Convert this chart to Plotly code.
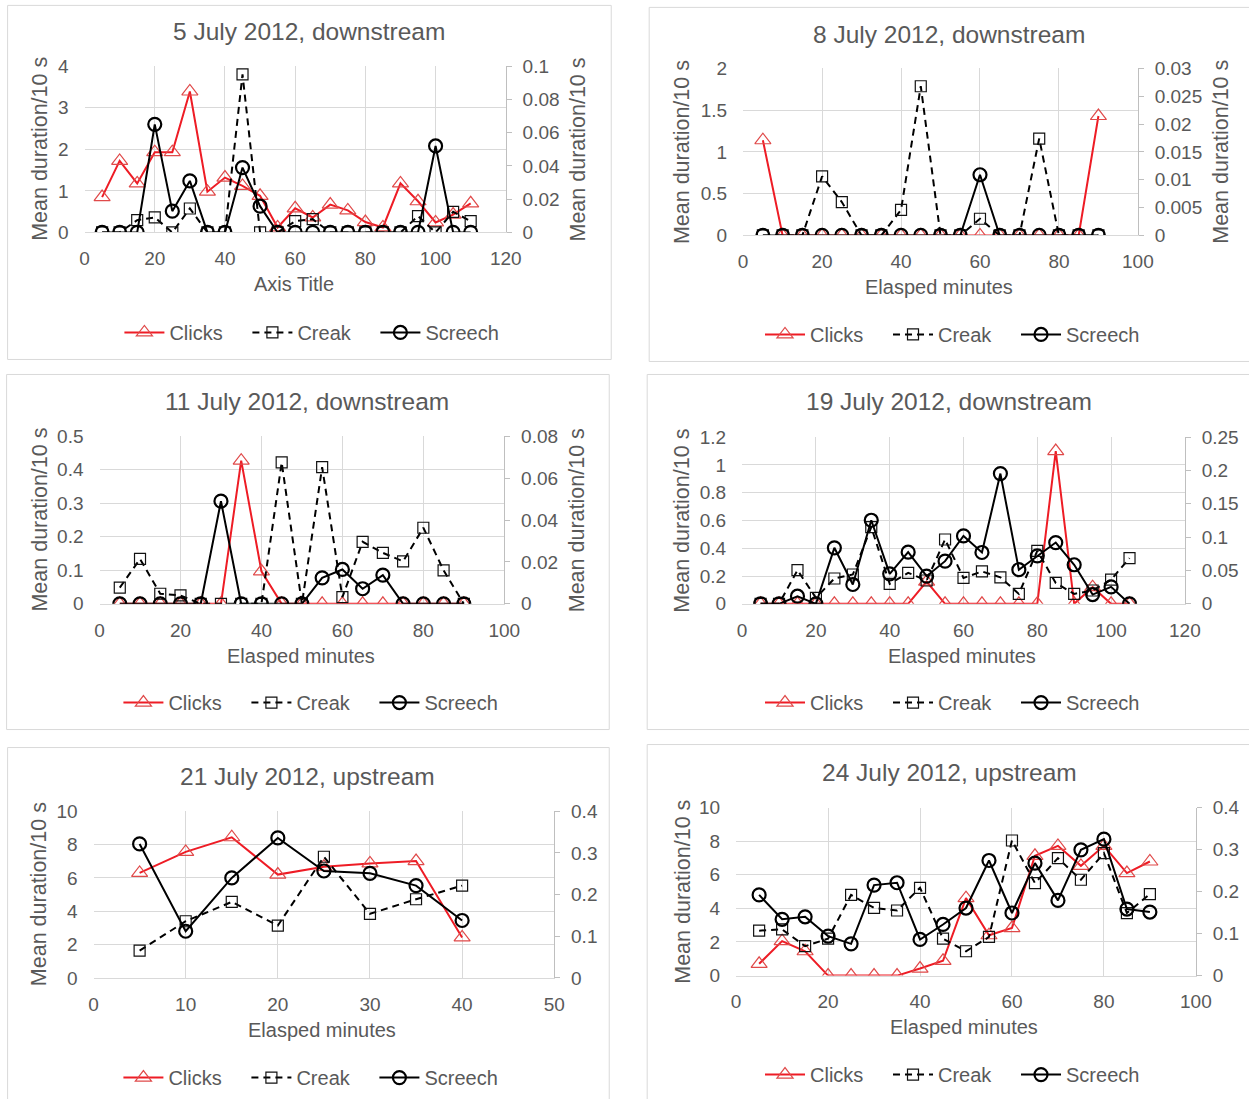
import plotly.graph_objects as go

# ---------------- DATA ----------------
p1_minutes = [5, 10, 15, 20, 25, 30, 35, 40, 45, 50, 55, 60, 65, 70, 75, 80, 85, 90, 95, 100, 105, 110]
p1_clicks = [0.85, 1.72, 1.18, 1.93, 1.93, 3.39, 0.98, 1.32, 1.12, 0.88, 0.12, 0.58, 0.36, 0.67, 0.53, 0.25, 0.12, 1.18, 0.75, 0.24, 0.43, 0.7]
p1_creak = [0, 0, 0.0074, 0.009, 0, 0.0144, 0, 0, 0.095, 0, 0, 0.0068, 0.008, 0, 0, 0, 0, 0, 0.0098, 0, 0.0124, 0.0068]
p1_screech = [0, 0, 0, 0.065, 0.0128, 0.031, 0, 0, 0.039, 0.0158, 0, 0, 0, 0, 0, 0, 0, 0, 0, 0.052, 0, 0]

p2_minutes = [5, 10, 15, 20, 25, 30, 35, 40, 45, 50, 55, 60, 65, 70, 75, 80, 85, 90]
p2_clicks = [1.14, 0, 0, 0, 0, 0, 0, 0, 0, 0, 0, 0, 0, 0, 0, 0, 0, 1.43]
p2_creak = [0, 0, 0, 0.0106, 0.006, 0, 0, 0.0046, 0.0268, 0, 0, 0.003, 0, 0, 0.0174, 0, 0, 0]
p2_screech = [0, 0, 0, 0, 0, 0, 0, 0, 0, 0, 0, 0.0109, 0, 0, 0, 0, 0, 0]

p3_minutes = [5, 10, 15, 20, 25, 30, 35, 40, 45, 50, 55, 60, 65, 70, 75, 80, 85, 90]
p3_clicks = [0, 0, 0, 0, 0, 0, 0.427, 0.097, 0, 0, 0, 0, 0, 0, 0, 0, 0, 0]
p3_creak = [0.0077, 0.0214, 0.0048, 0.004, 0, 0, 0, 0, 0.0675, 0, 0.0652, 0.0032, 0.0296, 0.0243, 0.0203, 0.0363, 0.016, 0]
p3_screech = [0, 0, 0, 0, 0, 0.049, 0, 0, 0, 0, 0.0124, 0.0164, 0.0072, 0.0137, 0, 0, 0, 0]

p4_minutes = [5, 10, 15, 20, 25, 30, 35, 40, 45, 50, 55, 60, 65, 70, 75, 80, 85, 90, 95, 100, 105]
p4_clicks = [0, 0, 0, 0, 0, 0, 0, 0, 0, 0.16, 0, 0, 0, 0, 0, 0, 1.1, 0, 0.12, 0, 0]
p4_creak = [0, 0, 0.0504, 0.009, 0.038, 0.044, 0.115, 0.030, 0.0465, 0.035, 0.0965, 0.0388, 0.0486, 0.0397, 0.0149, 0.0795, 0.0313, 0.0149, 0.02, 0.0362, 0.0686]
p4_screech = [0, 0, 0.0114, 0, 0.084, 0.029, 0.1254, 0.045, 0.0775, 0.0415, 0.064, 0.1019, 0.077, 0.1954, 0.0512, 0.072, 0.0919, 0.0586, 0.0139, 0.0254, 0]

p5_minutes = [5, 10, 15, 20, 25, 30, 35, 40]
p5_clicks = [6.3, 7.56, 8.44, 6.2, 6.67, 6.87, 7.01, 2.43]
p5_creak = [0.0656, 0.136, 0.1824, 0.1256, 0.2908, 0.1538, 0.1888, 0.2215]
p5_screech = [0.3216, 0.112, 0.24, 0.336, 0.2566, 0.251, 0.2215, 0.1378]

p6_minutes = [5, 10, 15, 20, 25, 30, 35, 40, 45, 50, 55, 60, 65, 70, 75, 80, 85, 90]
p6_clicks = [0.7, 2.05, 1.45, 0, 0, 0, 0, 0.42, 0.88, 4.61, 2.4, 2.83, 7.13, 7.72, 6.53, 7.72, 6.1, 6.79]
p6_creak = [0.107, 0.11, 0.07, 0.088, 0.192, 0.161, 0.155, 0.209, 0.088, 0.058, 0.092, 0.3216, 0.2202, 0.2796, 0.2281, 0.2915, 0.1489, 0.194]
p6_screech = [0.192, 0.134, 0.14, 0.094, 0.0756, 0.2155, 0.221, 0.086, 0.1217, 0.1608, 0.274, 0.149, 0.2677, 0.179, 0.2994, 0.3248, 0.1584, 0.1513]

series_names = ["Clicks", "Creak", "Screech"]
panel_titles = ["5 July 2012, downstream", "8 July 2012, downstream", "11 July 2012, downstream",
                "19 July 2012, downstream", "21 July 2012, upstream", "24 July 2012, upstream"]
x_titles = ["Axis Title", "Elasped minutes", "Elasped minutes", "Elasped minutes", "Elasped minutes", "Elasped minutes"]
y_title = "Mean duration/10 s"

x_max = [120, 100, 100, 120, 50, 100]
x_step = [20, 20, 20, 20, 10, 20]
y_max = [4, 2, 0.5, 1.2, 10, 10]
y_step = [1, 0.5, 0.1, 0.2, 2, 2]
y2_max = [0.1, 0.03, 0.08, 0.25, 0.4, 0.4]
y2_step = [0.02, 0.005, 0.02, 0.05, 0.1, 0.1]
has_right_title = [True, True, True, False, False, False]

panels_data = [
    (p1_minutes, p1_clicks, p1_creak, p1_screech),
    (p2_minutes, p2_clicks, p2_creak, p2_screech),
    (p3_minutes, p3_clicks, p3_creak, p3_screech),
    (p4_minutes, p4_clicks, p4_creak, p4_screech),
    (p5_minutes, p5_clicks, p5_creak, p5_screech),
    (p6_minutes, p6_clicks, p6_creak, p6_screech),
]

# ---------------- LAYOUT GEOMETRY (target pixels in the picture) ----------------
W, H = 1249, 1099
GREY = "#595959"
GRID = "#d9d9d9"
FONT = "Liberation Sans, Arial, sans-serif"

# measured page-to-picture mapping of the renderer (picture = S * page + O)
SX, OX = 0.9838, 5.4
SY, OY = 0.9807, 10.6

# plot area: x0, x1, ytop, ybottom
plot_px = [
    (85, 506.5, 66.7, 233),
    (744, 1139, 69, 236),
    (100, 505, 436.7, 604.3),
    (743, 1186, 437.7, 604.3),
    (94, 555, 811.7, 978.3),
    (737, 1197, 808, 976),
]
# panel frame boxes: x0, x1, y0, y1
box_px = [
    (8, 612, 6, 360),
    (650, 1262, 8, 362),
    (7, 610, 375, 730),
    (648, 1262, 375, 730),
    (8, 610, 748, 1115),
    (648, 1262, 745, 1115),
]
title_px = [(310, 32), (950, 35), (308, 402), (950, 402), (308, 777), (950, 773)]
xtitle_px = [(295, 285), (940, 288), (302, 656), (963, 656), (323, 1030), (965, 1027)]
ltitle_x = [41, 683, 40, 683, 39, 683]
rtitle_x = [579, 1222, 578, None, None, None]
legend_px = [(312, 333), (953, 335), (311, 703), (953, 703), (311, 1078), (953, 1075)]


def fx(x):
    return ((x - OX) / SX) / W


def fy(y):
    return 1 - ((y - OY) / SY) / H


fig = go.Figure()

for k in range(6):
    minutes, clicks, creak, screech = panels_data[k]
    xa = "x" if k == 0 else f"x{k + 1}"
    ya = "y" if k == 0 else f"y{2 * k + 1}"
    ya2 = f"y{2 * k + 2}"
    lg = "legend" if k == 0 else f"legend{k + 1}"

    fig.add_trace(go.Scatter(
        x=minutes, y=clicks, name=series_names[0], mode="lines+markers",
        xaxis=xa, yaxis=ya, legend=lg,
        line=dict(color="#ee1c25", width=2),
        marker=dict(symbol="triangle-up-open", size=14, color="#e04a4a", line=dict(width=1.2, color="#e04a4a")),
    ))
    fig.add_trace(go.Scatter(
        x=minutes, y=creak, name=series_names[1], mode="lines+markers",
        xaxis=xa, yaxis=ya2, legend=lg,
        line=dict(color="#000000", width=2, dash="7px,5px"),
        marker=dict(symbol="square-open", size=11, color="#111111", line=dict(width=1.2, color="#111111")),
    ))
    fig.add_trace(go.Scatter(
        x=minutes, y=screech, name=series_names[2], mode="lines+markers",
        xaxis=xa, yaxis=ya2, legend=lg,
        line=dict(color="#000000", width=2),
        marker=dict(symbol="circle-open", size=13, color="#000000", line=dict(width=2.2, color="#000000")),
    ))

    x0, x1, yt, yb = plot_px[k]
    xkey = "xaxis" if k == 0 else f"xaxis{k + 1}"
    ykey = "yaxis" if k == 0 else f"yaxis{2 * k + 1}"
    y2key = f"yaxis{2 * k + 2}"

    fig.layout[xkey] = dict(
        domain=[fx(x0), fx(x1)], anchor=ya, range=[0, x_max[k]], dtick=x_step[k], tick0=0,
        showgrid=True, gridcolor=GRID, gridwidth=1, zeroline=False,
        showline=True, linecolor=GRID, linewidth=1, ticks="",
        ticklabelstandoff=9,
        tickfont=dict(size=19, color=GREY, family=FONT),
    )
    fig.layout[ykey] = dict(
        domain=[fy(yb), fy(yt)], anchor=xa, range=[0, y_max[k]], dtick=y_step[k], tick0=0,
        showgrid=True, gridcolor=GRID, gridwidth=1, zeroline=False,
        showline=False, ticks="",
        ticklabelstandoff=15,
        tickfont=dict(size=19, color=GREY, family=FONT),
    )
    fig.layout[y2key] = dict(
        overlaying=ya, anchor=xa, side="right", range=[0, y2_max[k]], dtick=y2_step[k], tick0=0,
        showgrid=False, zeroline=False,
        showline=True, linecolor="#bfbfbf", linewidth=1,
        ticks="outside", ticklen=5, tickcolor="#bfbfbf",
        ticklabelstandoff=7,
        tickfont=dict(size=19, color=GREY, family=FONT),
    )

    lx, ly = legend_px[k]
    fig.layout[lg] = dict(
        orientation="h", x=fx(lx), y=fy(ly), xanchor="center", yanchor="middle",
        font=dict(size=20, color=GREY, family=FONT), bgcolor="rgba(0,0,0,0)",
        itemwidth=40, entrywidth=73, entrywidthmode="pixels",
    )

    # frame
    bx0, bx1, by0, by1 = box_px[k]
    fig.add_shape(type="rect", xref="paper", yref="paper",
                  x0=fx(bx0), x1=fx(bx1), y0=fy(by1), y1=fy(by0),
                  line=dict(color=GRID, width=1), fillcolor="rgba(0,0,0,0)", layer="below")

    tx, ty = title_px[k]
    fig.add_annotation(text=panel_titles[k], x=fx(tx), y=fy(ty), xref="paper", yref="paper",
                       showarrow=False, xanchor="center", yanchor="middle",
                       font=dict(size=24.5, color=GREY, family=FONT))
    axx, axy = xtitle_px[k]
    fig.add_annotation(text=x_titles[k], x=fx(axx), y=fy(axy), xref="paper", yref="paper",
                       showarrow=False, xanchor="center", yanchor="middle",
                       font=dict(size=20, color=GREY, family=FONT))
    ymid = (yt + yb) / 2
    fig.add_annotation(text=y_title, x=fx(ltitle_x[k]), y=fy(ymid), xref="paper", yref="paper",
                       showarrow=False, xanchor="center", yanchor="middle", textangle=-90,
                       font=dict(size=21.5, color=GREY, family=FONT))
    if has_right_title[k]:
        fig.add_annotation(text=y_title, x=fx(rtitle_x[k]), y=fy(ymid), xref="paper", yref="paper",
                           showarrow=False, xanchor="center", yanchor="middle", textangle=-90,
                           font=dict(size=21.5, color=GREY, family=FONT))

fig.update_layout(
    width=W, height=H,
    margin=dict(l=0, r=0, t=0, b=0),
    paper_bgcolor="white", plot_bgcolor="white",
    font=dict(family=FONT, color=GREY),
)

fig.write_html(
    "out.html",
    config={"displayModeBar": False},
    post_script="document.body.style.margin='0';document.body.style.padding='0';document.body.style.overflow='hidden';",
)
